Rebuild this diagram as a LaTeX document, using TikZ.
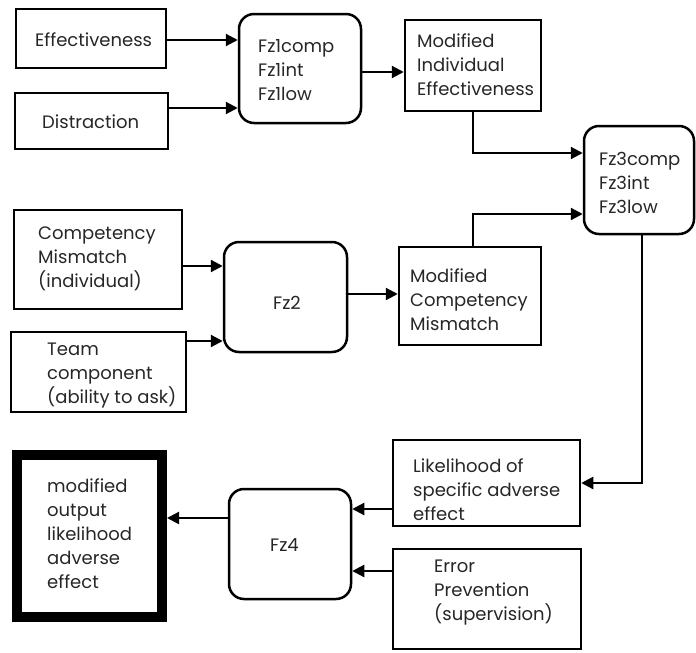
\documentclass[tikz,border=0pt]{standalone}
\usepackage{fontspec}
\setmainfont{Poppins}
\usetikzlibrary{arrows.meta}

\tikzset{
  box/.style={draw=black, line width=2.5pt, rectangle, inner sep=0pt},
  fzbox/.style={box, rounded corners=15pt},
  outbox/.style={draw=black, line width=10pt, rectangle, inner sep=0pt},
  txt/.style={inner sep=0pt, align=left, text=black!85,
              font=\fontsize{18}{24}\selectfont},
  flow/.style={line width=2.2pt, -{Triangle[length=12pt,width=12pt]}},
}

\begin{document}
\begin{tikzpicture}[x=1pt, y=-1pt]
\useasboundingbox (0,0) rectangle (696,653);

% ---------- boxes ----------
\node[box, minimum width=150, minimum height=59]  (eff) at (91,38.5)   {};
\node[box, minimum width=153, minimum height=56]  (dis) at (91.5,121)  {};
\node[fzbox, minimum width=122, minimum height=109] (fz1) at (300,68.5) {};
\node[box, minimum width=136, minimum height=91]  (mie) at (473,65.5)  {};
\node[fzbox, minimum width=110, minimum height=108] (fz3) at (639,180) {};
\node[box, minimum width=168, minimum height=99]  (cm)  at (98,259.5)  {};
\node[fzbox, minimum width=123, minimum height=110] (fz2) at (285.5,297) {};
\node[box, minimum width=175, minimum height=80]  (team) at (98.5,372) {};
\node[box, minimum width=142, minimum height=98]  (mcm) at (470,296)   {};
\node[box, minimum width=187, minimum height=86]  (lik) at (486.5,483) {};
\node[box, minimum width=188, minimum height=100] (err) at (487,599)   {};
\node[fzbox, minimum width=122, minimum height=110] (fz4) at (290,544) {};
\node[outbox, minimum width=145, minimum height=162] (out) at (89.5,536) {};

% ---------- labels ----------
\node[txt, anchor=base west] (effT) at (35,46)  {Effectiveness};
\node[txt, anchor=base west] (disT) at (42,128) {Distraction};
\node[txt, anchor=north west] (fz1T) at (258,39) {Fz1comp\\Fz1int\\Fz1low};
\node[txt, anchor=north west] (mieT) at (417,34) {Modified\\Individual\\Effectiveness};
\node[txt, anchor=north west] (fz3T) at (599,152) {Fz3comp\\Fz3int\\Fz3low};
\node[txt, anchor=north west] (cmT) at (38,227) {Competency\\Mismatch\\(individual)};
\node[txt, anchor=north west] (teamT) at (47,343) {Team\\component\\(ability to ask)};
\node[txt, anchor=base west] (fz2T) at (273,309) {Fz2};
\node[txt, anchor=north west] (mcmT) at (410,269) {Modified\\Competency\\Mismatch};
\node[txt, anchor=north west] (likT) at (413,459) {Likelihood of\\specific adverse\\effect};
\node[txt, anchor=north west] (errT) at (434,560) {Error\\Prevention\\(supervision)};
\node[txt, anchor=base west] (fz4T) at (270,551) {Fz4};
\node[txt, anchor=north west] (outT) at (47,479) {modified\\output\\likelihood\\adverse\\effect};

% ---------- connection points ----------
\coordinate (effOut) at ([yshift=-1.5pt]eff.east);
\coordinate (disOut) at ([yshift=13pt]dis.east);
\coordinate (fz1Out) at ([yshift=-3.5pt]fz1.east);
\coordinate (fz3InA) at ([yshift=27pt]fz3.west);
\coordinate (fz3InB) at ([yshift=-34pt]fz3.west);
\coordinate (mcmTop) at (mie.south |- mcm.north);
\coordinate (fz3Out) at ([xshift=3pt]fz3.south);
\coordinate (cmOut)  at ([yshift=-6.5pt]cm.east);
\coordinate (teamOut) at ([yshift=31pt]team.east);
\coordinate (fz2Out) at ([yshift=3pt]fz2.east);
\coordinate (likOut) at ([yshift=-26pt]lik.west);
\coordinate (errOut) at ([yshift=28pt]err.west);
\coordinate (fz4Out) at ([yshift=26pt]fz4.west);

% ---------- connectors ----------
\draw[flow] (effOut) -- (effOut -| fz1.west);
\draw[flow] (disOut) -- (disOut -| fz1.west);
\draw[flow] (fz1Out) -- (fz1Out -| mie.west);
\draw[flow] (mie.south) |- (fz3InA);
\draw[flow] (mcmTop) |- (fz3InB);
\draw[flow] (fz3Out) |- (lik.east);
\draw[flow] (cmOut) -- (cmOut -| fz2.west);
\draw[flow] (teamOut) -- (teamOut -| fz2.west);
\draw[flow] (fz2Out) -- (fz2Out -| mcm.west);
\draw[flow] (likOut) -- (likOut -| fz4.east);
\draw[flow] (errOut) -- (errOut -| fz4.east);
\draw[flow] (fz4Out) -- (fz4Out -| out.east);
\end{tikzpicture}
\end{document}
